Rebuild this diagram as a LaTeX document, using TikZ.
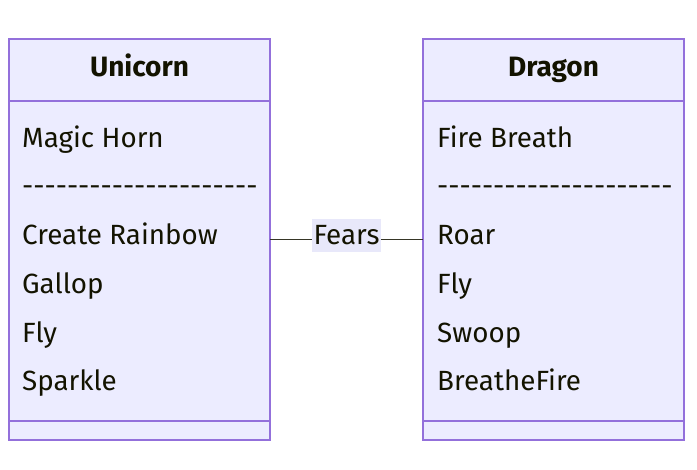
\documentclass[tikz,border=0pt]{standalone}
\usepackage{fontspec}
\setmainfont{Fira Sans}
\definecolor{classfill}{HTML}{ECECFF}
\definecolor{classline}{HTML}{9370DB}
\definecolor{labelfill}{HTML}{E8E8FA}
\definecolor{ink}{HTML}{131300}
\newcommand{\dashrow}{\foreach\i in {1,...,21}{-\kern0pt}}
\begin{document}
\begin{tikzpicture}[x=1pt,y=-1pt,
  classbox/.style={draw=classline,fill=classfill,line width=1.2pt},
  divider/.style={draw=classline,line width=1.2pt},
  title/.style={anchor=base,inner sep=0pt,text=ink,font=\fontsize{28}{28}\selectfont\bfseries},
  member/.style={anchor=base west,inner sep=0pt,text=ink,font=\fontsize{27.8}{28}\selectfont}]
\useasboundingbox (0,0) rectangle (697,470);
% Unicorn class
\draw[classbox] (9,39) rectangle (270,440);
\draw[divider] (9,101) -- (270,101);
\draw[divider] (9,421) -- (270,421);
\node[title] (unicorn) at (139.5,77) {Unicorn};
\node[member] (horn) at (22,148) {Magic Horn};
\node[member] (usep) at (22,196) {\dashrow};
\node[member] (rainbow) at (22,245) {Create Rainbow};
\node[member] (gallop) at (22,294) {Gallop};
\node[member] (ufly) at (22,343) {Fly};
\node[member] (sparkle) at (22,391) {Sparkle};
% Dragon class
\draw[classbox] (423,39) rectangle (684,440);
\draw[divider] (423,101) -- (684,101);
\draw[divider] (423,421) -- (684,421);
\node[title] (dragon) at (553.5,77) {Dragon};
\node[member] (breath) at (437,148) {Fire Breath};
\node[member] (dsep) at (437,196) {\dashrow};
\node[member] (roar) at (437,245) {Roar};
\node[member] (dfly) at (437,294) {Fly};
\node[member] (swoop) at (437,343) {Swoop};
\node[member] (breathe) at (437,391) {BreatheFire};
% relation
\coordinate (ufear) at (270,240);
\coordinate (dfear) at (423,240);
\draw[ink!85,line width=1pt] (ufear) -- (dfear);
\node[fill=labelfill,inner sep=1.5pt,minimum height=33pt,text=ink,font=\fontsize{27.8}{28}\selectfont] (fears) at (346.5,235.5) {Fears};
\end{tikzpicture}
\end{document}
